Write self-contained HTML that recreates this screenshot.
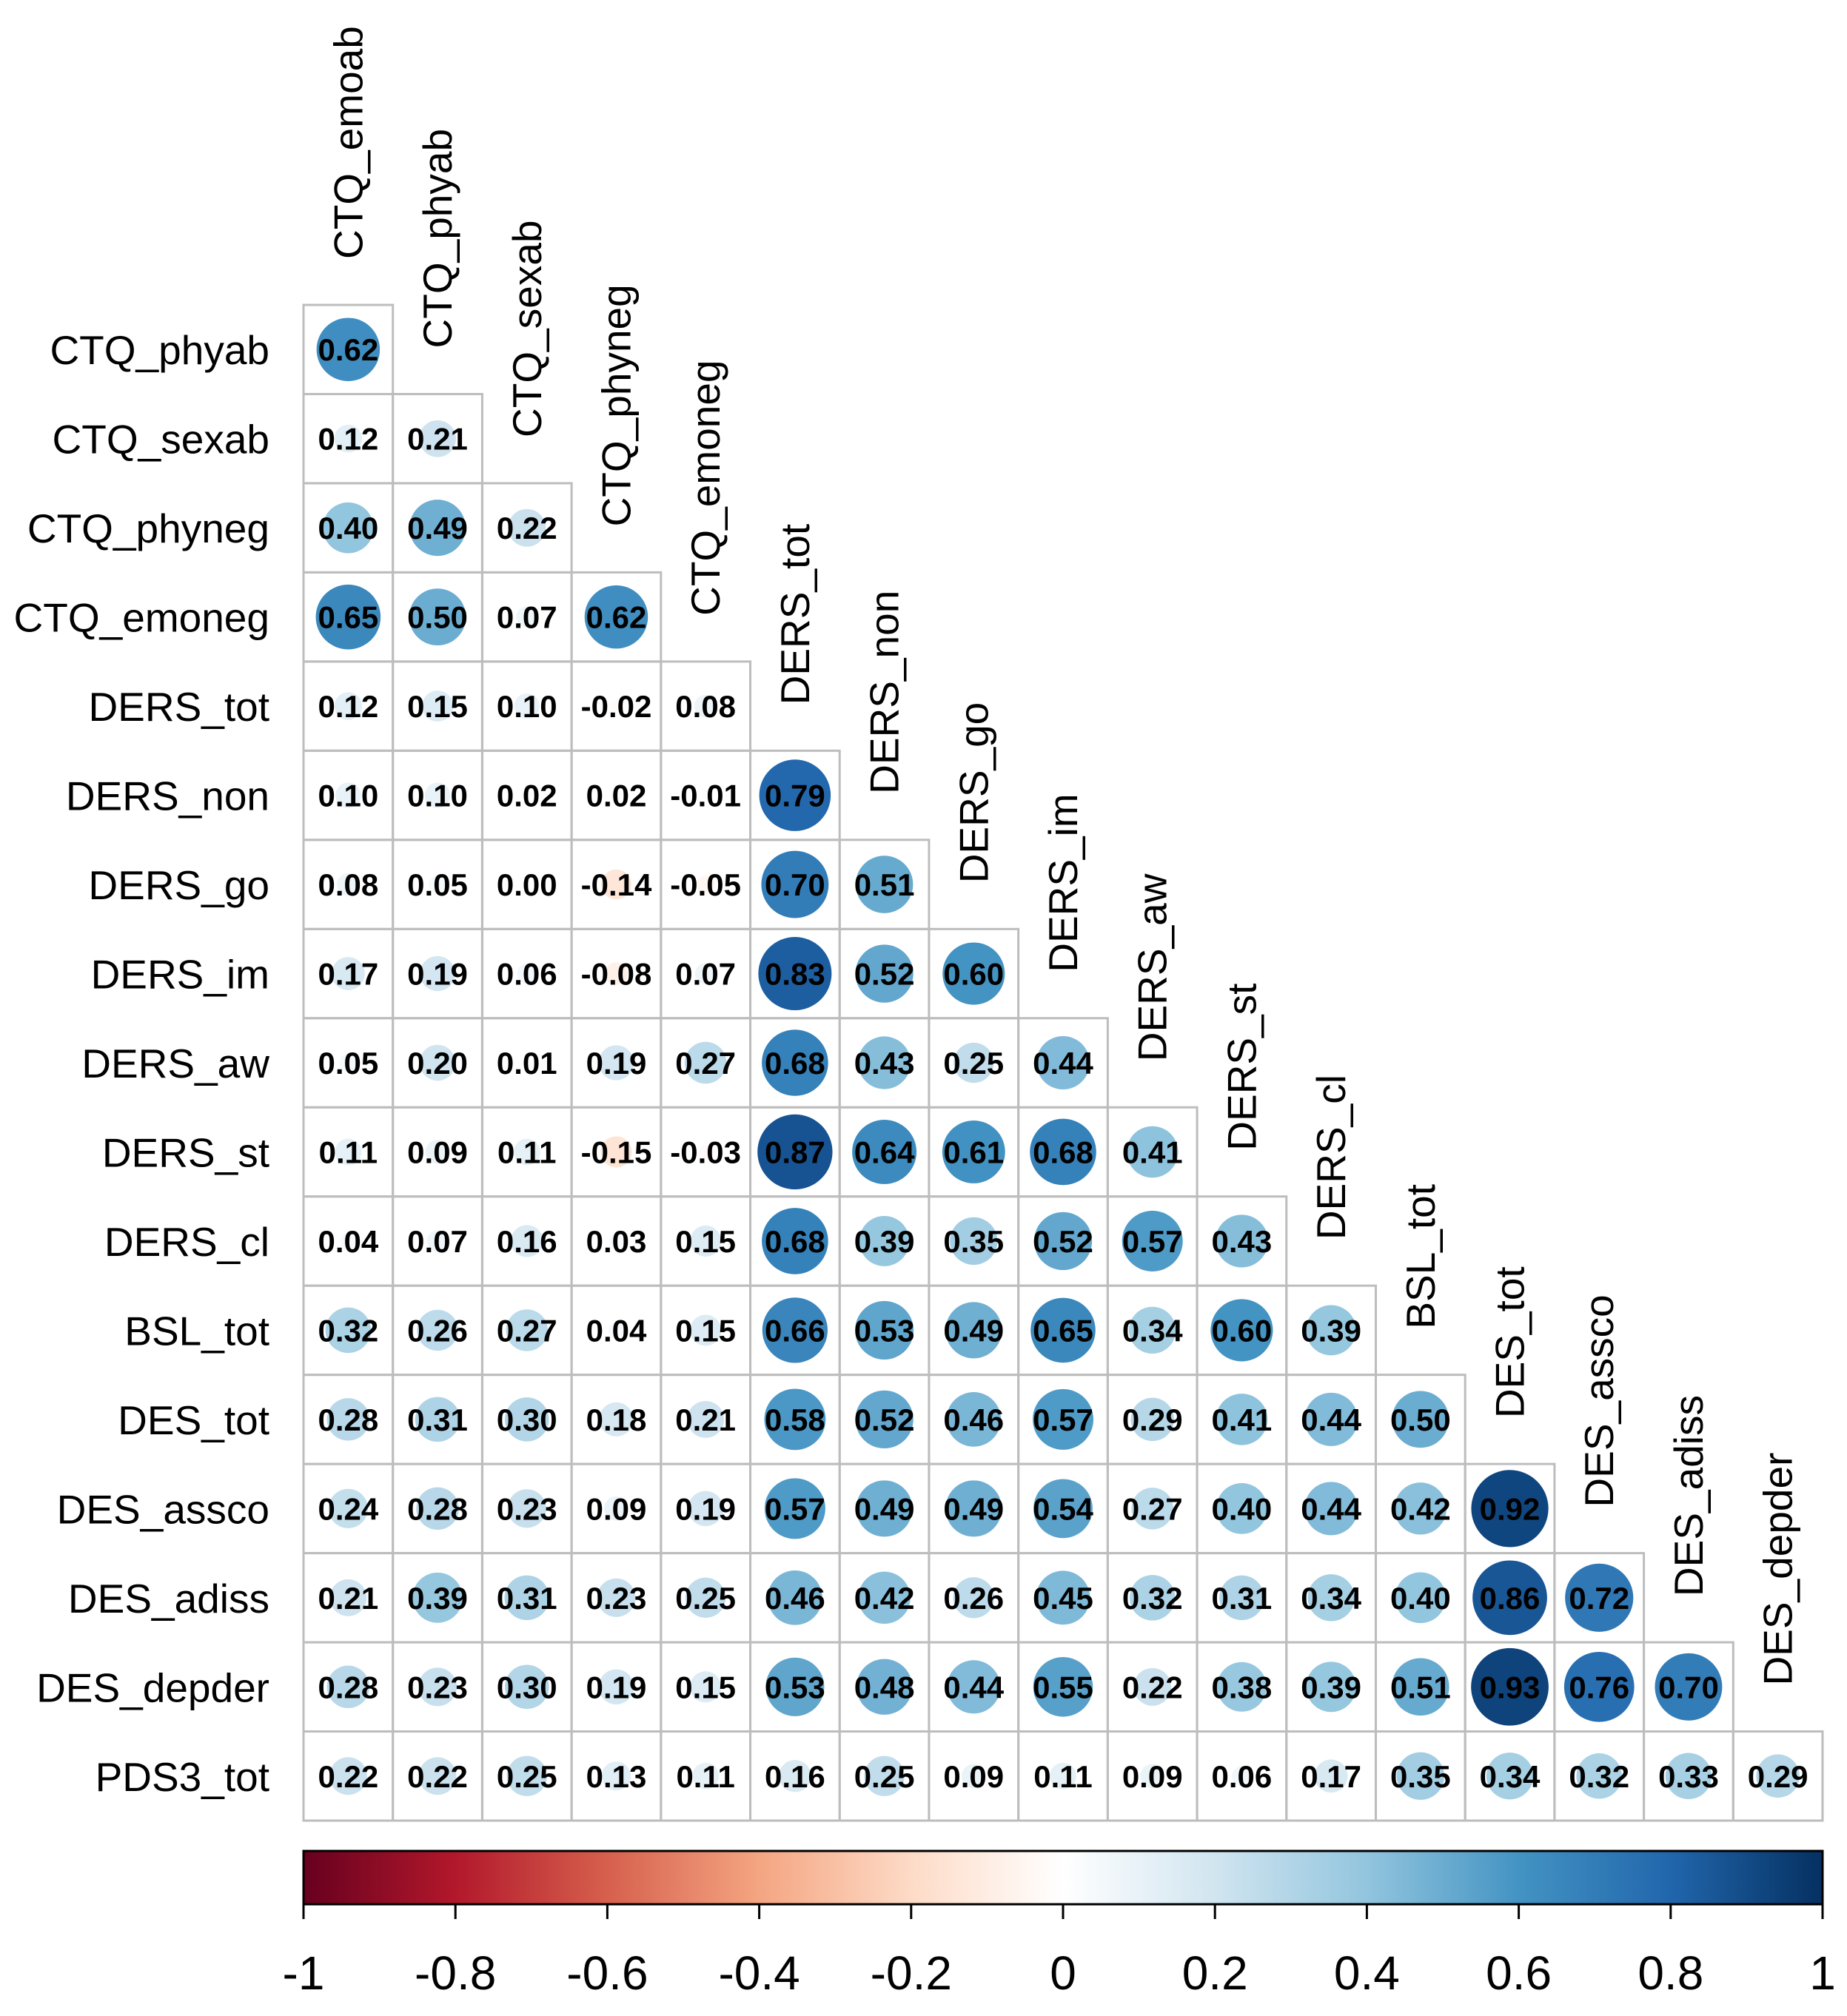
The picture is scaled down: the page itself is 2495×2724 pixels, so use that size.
<!DOCTYPE html>
<html><head><meta charset="utf-8"><style>
html,body{margin:0;padding:0;background:#fff}
svg{display:block}
text{font-family:"Liberation Sans",Arial,sans-serif}
</style></head><body>
<svg id="chart" width="2495" height="2724" viewBox="0 0 2495 2724" xmlns="http://www.w3.org/2000/svg">
<defs><linearGradient id="cb" x1="0" x2="1" y1="0" y2="0">
<stop offset="0" stop-color="#67001F"/><stop offset="0.1" stop-color="#B2182B"/><stop offset="0.2" stop-color="#D6604D"/><stop offset="0.3" stop-color="#F4A582"/><stop offset="0.4" stop-color="#FDDBC7"/><stop offset="0.5" stop-color="#FFFFFF"/><stop offset="0.6" stop-color="#D1E5F0"/><stop offset="0.7" stop-color="#92C5DE"/><stop offset="0.8" stop-color="#4393C3"/><stop offset="0.9" stop-color="#2166AC"/><stop offset="1" stop-color="#053061"/>
</linearGradient></defs>
</svg>
<script>
const rowLabels = ["CTQ_phyab","CTQ_sexab","CTQ_phyneg","CTQ_emoneg","DERS_tot","DERS_non","DERS_go","DERS_im","DERS_aw","DERS_st","DERS_cl","BSL_tot","DES_tot","DES_assco","DES_adiss","DES_depder","PDS3_tot"];
const colLabels = ["CTQ_emoab","CTQ_phyab","CTQ_sexab","CTQ_phyneg","CTQ_emoneg","DERS_tot","DERS_non","DERS_go","DERS_im","DERS_aw","DERS_st","DERS_cl","BSL_tot","DES_tot","DES_assco","DES_adiss","DES_depder"];
const corrRows = [
[0.62],
[0.12,0.21],
[0.40,0.49,0.22],
[0.65,0.50,0.07,0.62],
[0.12,0.15,0.10,-0.02,0.08],
[0.10,0.10,0.02,0.02,-0.01,0.79],
[0.08,0.05,0.00,-0.14,-0.05,0.70,0.51],
[0.17,0.19,0.06,-0.08,0.07,0.83,0.52,0.60],
[0.05,0.20,0.01,0.19,0.27,0.68,0.43,0.25,0.44],
[0.11,0.09,0.11,-0.15,-0.03,0.87,0.64,0.61,0.68,0.41],
[0.04,0.07,0.16,0.03,0.15,0.68,0.39,0.35,0.52,0.57,0.43],
[0.32,0.26,0.27,0.04,0.15,0.66,0.53,0.49,0.65,0.34,0.60,0.39],
[0.28,0.31,0.30,0.18,0.21,0.58,0.52,0.46,0.57,0.29,0.41,0.44,0.50],
[0.24,0.28,0.23,0.09,0.19,0.57,0.49,0.49,0.54,0.27,0.40,0.44,0.42,0.92],
[0.21,0.39,0.31,0.23,0.25,0.46,0.42,0.26,0.45,0.32,0.31,0.34,0.40,0.86,0.72],
[0.28,0.23,0.30,0.19,0.15,0.53,0.48,0.44,0.55,0.22,0.38,0.39,0.51,0.93,0.76,0.70],
[0.22,0.22,0.25,0.13,0.11,0.16,0.25,0.09,0.11,0.09,0.06,0.17,0.35,0.34,0.32,0.33,0.29]
];
const tickValues = [-1,-0.8,-0.6,-0.4,-0.2,0,0.2,0.4,0.6,0.8,1];
const tickLabels = ["-1","-0.8","-0.6","-0.4","-0.2","0","0.2","0.4","0.6","0.8","1"];

const NS="http://www.w3.org/2000/svg";
const svg=document.getElementById('chart');
const X0=410, Y0=412, X1=2462, Y1=2460;
const cw=(X1-X0)/colLabels.length, ch=(Y1-Y0)/rowLabels.length;
const xc=j=>X0+cw*(j+0.5), yc=i=>Y0+ch*(i+0.5);
const pal=["#67001F","#B2182B","#D6604D","#F4A582","#FDDBC7","#FFFFFF","#D1E5F0","#92C5DE","#4393C3","#2166AC","#053061"];
function col(v){const t=(v+1)/2*10;const k=Math.min(9,Math.floor(t));const f=t-k;
 const a=pal[k],b=pal[k+1];const c=[1,3,5].map(p=>Math.round(parseInt(a.substr(p,2),16)*(1-f)+parseInt(b.substr(p,2),16)*f));
 return `rgb(${c[0]},${c[1]},${c[2]})`;}
function mk(tag,attrs,txt){const e=document.createElementNS(NS,tag);for(const k in attrs)e.setAttribute(k,attrs[k]);if(txt!==undefined)e.textContent=txt;svg.appendChild(e);return e;}

corrRows.forEach((row,i)=>{
 const rl=mk('text',{x:364,y:yc(i)+20,'text-anchor':'end','font-size':55,fill:'#000'},rowLabels[i]);
 
 
 row.forEach((v,j)=>{
  const r=mk('rect',{x:X0+cw*j,y:Y0+ch*i,width:cw,height:ch,fill:'none',stroke:'#bdbdbd','stroke-width':3});
  
  
  const c=mk('circle',{cx:xc(j),cy:yc(i),r:0.9*cw/2*Math.sqrt(Math.abs(v)),fill:col(v)});
  
  
  const t=mk('text',{x:xc(j),y:yc(i)+15,'text-anchor':'middle','font-size':42,'font-weight':'bold',fill:'#000'},v.toFixed(2));
  
  
 });
});
colLabels.forEach((l,j)=>{
 const x=xc(j)+19, y=Y0+ch*j-62;
 const t=mk('text',{x:x,y:y,transform:`rotate(-90 ${x} ${y})`,'font-size':55,fill:'#000'},l);
 
 
});
const CB0=410, CB1=2462, CBT=2501, CBB=2573;
const cx=v=>CB0+(v+1)/2*(CB1-CB0);
const bar=mk('rect',{x:CB0,y:CBT,width:CB1-CB0,height:CBB-CBT,fill:'url(#cb)',stroke:'#000','stroke-width':3});


tickValues.forEach((v,k)=>{
 const ln=mk('line',{x1:cx(v),x2:cx(v),y1:CBB,y2:2593,stroke:'#000','stroke-width':3});
 
 
 const t=mk('text',{x:cx(v),y:2688,'text-anchor':'middle','font-size':64,fill:'#000'},tickLabels[k]);
 
 
});
</script>
</body></html>
